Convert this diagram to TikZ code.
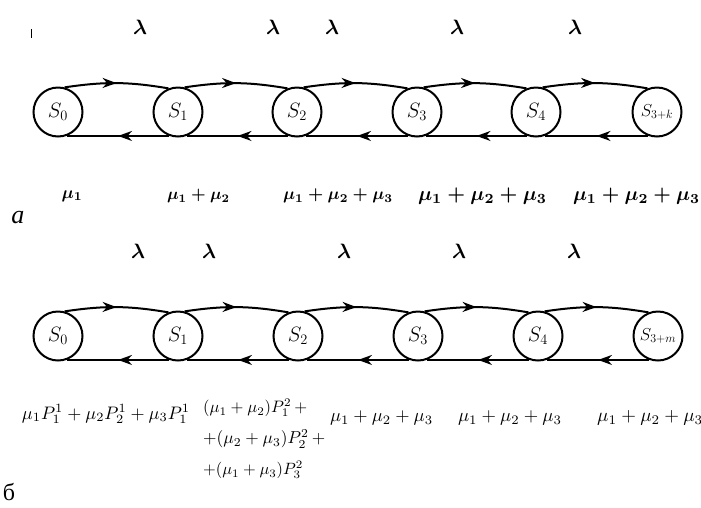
\RequirePackage{fix-cm}
\documentclass[tikz,border=0pt]{standalone}
\usepackage{fontspec}
\usepackage{graphicx}
\newfontfamily\cyr{Liberation Serif}
\usetikzlibrary{arrows.meta,decorations.markings}
\begin{document}
\begin{tikzpicture}[x=1pt,y=-1pt,
  st/.style={circle,draw,line width=2pt,minimum size=49pt,inner sep=0pt,font=\fontsize{20.74}{21}\selectfont},
  fwd/.style={line width=2pt,postaction=decorate,
    decoration={markings,mark=at position 0.5 with {\arrow{Stealth[length=14pt,width=10pt]}}}},
  lam/.style={font=\fontsize{20.74}{21}\selectfont\boldmath,inner sep=0pt},
  lab/.style={inner sep=0pt},
  blab/.style={inner sep=0pt,font=\boldmath},
  cyrlab/.style={inner sep=0pt,font=\cyr\fontsize{24}{24}\selectfont}
]
\useasboundingbox (0,0) rectangle (701,507);
\draw[line width=1pt] (31,29) -- (31,38);
% ---- row a ----
\foreach \i/\x/\l in {0/58/S_0,1/178/S_1,2/297/S_2,3/417/S_3,4/536/S_4}
  \node[st] (a\i) at (\x,112) {$\l$};
\node[st,font=\fontsize{17.28}{18}\selectfont] (a5) at (657,112) {$S_{3+k}$};
\foreach \i/\j in {0/1,1/2,2/3,3/4,4/5}{
  \draw[fwd] (a\i.75) to[bend left=9] (a\j.112);
  \draw[fwd] (a\j.250) to (a\i.290);
}
\foreach \n/\x in {1/140,2/273,3/332,4/457,5/575}
  \node[lam] (la\n) at (\x,27) {$\lambda$};
\node[blab] (ma1) at (72,196) {\resizebox{21pt}{!}{$\mu_1$}};
\node[blab] (ma2) at (198.5,196) {\resizebox{63pt}{!}{$\mu_1+\mu_2$}};
\node[blab] (ma3) at (338,196) {\resizebox{110pt}{!}{$\mu_1+\mu_2+\mu_3$}};
\node[blab] (ma4) at (482.5,196) {\resizebox{129pt}{!}{$\mu_1+\mu_2+\mu_3$}};
\node[blab] (ma5) at (636.5,196) {\resizebox{127pt}{!}{$\mu_1+\mu_2+\mu_3$}};
\node[cyrlab,font=\cyr\itshape\fontsize{26}{26}\selectfont] (ta) at (18,218) {а};
% ---- row b ----
\foreach \i/\x/\l in {0/58/S_0,1/178/S_1,2/298/S_2,3/418/S_3,4/538/S_4}
  \node[st] (b\i) at (\x,336) {$\l$};
\node[st,font=\fontsize{17.28}{18}\selectfont] (b5) at (658,336) {$S_{3+m}$};
\foreach \i/\j in {0/1,1/2,2/3,3/4,4/5}{
  \draw[fwd] (b\i.75) to[bend left=9] (b\j.112);
  \draw[fwd] (b\j.250) to (b\i.290);
}
\foreach \n/\x in {1/138,2/209,3/344,4/459,5/574}
  \node[lam] (lb\n) at (\x,251) {$\lambda$};
\node[lab] (mb1) at (106,414) {\resizebox{168pt}{!}{$\mu_1P_1^1+\mu_2P_2^1+\mu_3P_1^1$}};
\node[lab,anchor=north west,align=left] (mb2) at (203,399)
  {\resizebox{104pt}{!}{$(\mu_1+\mu_2)P_1^2\,+$}\\[12pt]
   \resizebox{122pt}{!}{$+(\mu_2+\mu_3)P_2^2\,+$}\\[12pt]
   \resizebox{100pt}{!}{$+(\mu_1+\mu_3)P_3^2$}};
\node[lab] (mb3) at (381.5,418) {\resizebox{103pt}{!}{$\mu_1+\mu_2+\mu_3$}};
\node[lab] (mb4) at (510,418) {\resizebox{104pt}{!}{$\mu_1+\mu_2+\mu_3$}};
\node[lab,anchor=west] (mb5) at (597,418) {\resizebox{106pt}{!}{$\mu_1+\mu_2+\mu_3$}};
\node[cyrlab] (tb) at (9,492) {б};
\end{tikzpicture}
\end{document}
